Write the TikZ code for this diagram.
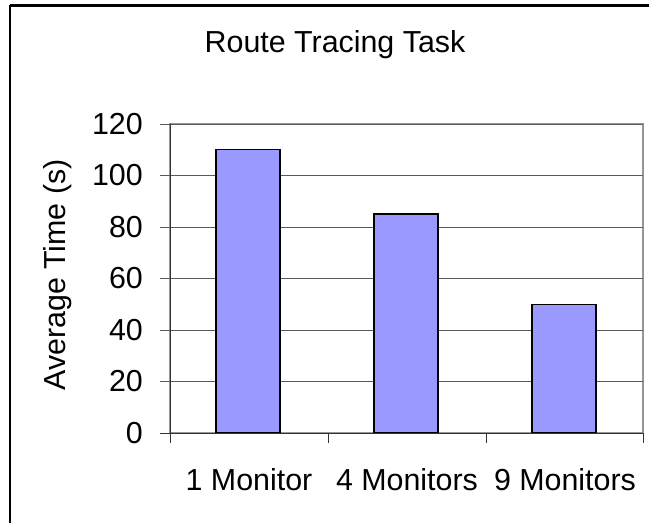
\documentclass[tikz,border=0pt]{standalone}
\usepackage{fontspec}
\setmainfont{Liberation Sans}
\definecolor{mybar}{HTML}{9999FF}
\definecolor{mygrid}{HTML}{5A5A5A}
\definecolor{myframe}{HTML}{969696}
\usetikzlibrary{positioning}
\tikzset{
	barnode/.style={
			draw=black,
			line width=1.3pt,
			fill=mybar
		},
	gridline/.style={
			draw=mygrid,
			line width=0.9pt
		},
	axisline/.style={
			draw=black!80,
			line width=1pt
		},
	ticklabel/.style={
			font=\fontsize{30.5}{37}\selectfont,
			inner sep=0pt
		}
}

\begin{document}
\begin{tikzpicture}[x=1bp, y=-1bp]
\useasboundingbox (0,0) rectangle (649,523);
\fill[white] (0,0) rectangle (649,523);
\draw[black, line width=2.4pt] (10,5.5) -- (660,5.5);
\draw[black, line width=2.4pt] (10,5.5) -- (10,540);

% plot area
\draw[myframe, line width=1.5pt] (170,124) rectangle (643,433);
\draw[gridline] (160,124) -- (643,124);
\draw[gridline] (160,175.5) -- (643,175.5);
\draw[gridline] (160,227) -- (643,227);
\draw[gridline] (160,278.5) -- (643,278.5);
\draw[gridline] (160,330) -- (643,330);
\draw[gridline] (160,381.5) -- (643,381.5);

% bars
\draw[barnode] (216,433) rectangle (280,149.75);
\draw[barnode] (374,433) rectangle (438,214.1);
\draw[barnode] (532,433) rectangle (596,304.3);

% axes
\draw[axisline] (170,124) -- (170,443);
\draw[axisline] (160,433) -- (643,433);
\draw[axisline] (328,433) -- (328,443);
\draw[axisline] (486,433) -- (486,443);
\draw[axisline] (643,433) -- (643,443);

\node[ticklabel, anchor=east] (y120) at (143,124) {120};
\node[ticklabel, anchor=east] (y100) at (143,175.5) {100};
\node[ticklabel, anchor=east] (y80) at (143,227) {80};
\node[ticklabel, anchor=east] (y60) at (143,278.5) {60};
\node[ticklabel, anchor=east] (y40) at (143,330) {40};
\node[ticklabel, anchor=east] (y20) at (143,381.5) {20};
\node[ticklabel, anchor=east] (y0) at (143,433) {0};

\node[ticklabel, anchor=base] (c1) at (249,490) {1 Monitor};
\node[ticklabel, anchor=base] (c2) at (407,490) {4 Monitors};
\node[ticklabel, anchor=base] (c3) at (565,490) {9 Monitors};

\node[ticklabel, rotate=90] (ytitle) at (58,275) {Average Time (s)};
\node[ticklabel, anchor=base] (title) at (335,53) {Route Tracing Task};
\end{tikzpicture}
\end{document}
